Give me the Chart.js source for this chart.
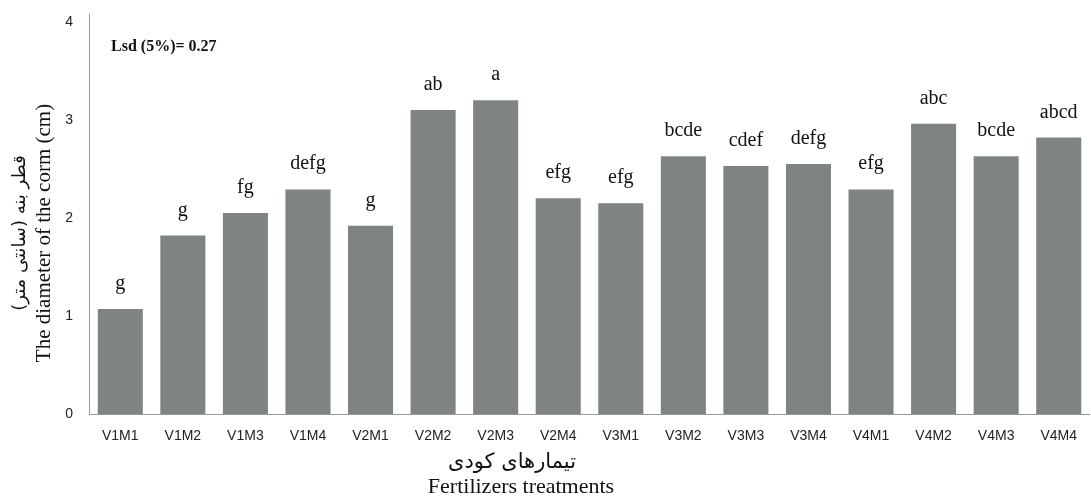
<!DOCTYPE html>
<html>
<head>
<meta charset="utf-8">
<script src="https://cdn.jsdelivr.net/npm/chart.js"></script>
<style>
  body { margin: 0; background: #fff; }
  #wrap { width: 1091px; height: 497px; }
</style>
</head>
<body>
<div id="wrap"><canvas id="cormChart"></canvas></div>
<script>
// treatments and corm diameter (cm)
const treatments = ['V1M1', 'V1M2', 'V1M3', 'V1M4', 'V2M1', 'V2M2', 'V2M3', 'V2M4',
                    'V3M1', 'V3M2', 'V3M3', 'V3M4', 'V4M1', 'V4M2', 'V4M3', 'V4M4'];
const diameter = [1.07, 1.82, 2.05, 2.29, 1.92, 3.10, 3.20, 2.20,
                  2.15, 2.63, 2.53, 2.55, 2.29, 2.96, 2.63, 2.82];
const groups = ['g', 'g', 'fg', 'defg', 'g', 'ab', 'a', 'efg',
                'efg', 'bcde', 'cdef', 'defg', 'efg', 'abc', 'bcde', 'abcd'];
const yTicks = [0, 1, 2, 3, 4];

const serif = '"Liberation Serif", "Times New Roman", serif';

// letters above bars, Lsd note and the two-language axis titles
const annotations = {
    id: 'annotations',
    afterDatasetsDraw(chart) {
        const ctx = chart.ctx;
        const area = chart.chartArea;
        const meta = chart.getDatasetMeta(0);
        ctx.save();
        ctx.fillStyle = '#111';
        ctx.textAlign = 'center';
        ctx.textBaseline = 'alphabetic';
        ctx.font = '20px ' + serif;
        meta.data.forEach((bar, i) => {
            ctx.fillText(groups[i], bar.x, bar.y - 20);
        });

        ctx.textAlign = 'left';
        ctx.textBaseline = 'middle';
        ctx.font = 'bold 16px ' + serif;
        ctx.fillText('Lsd (5%)= 0.27', area.left + 22, 47);

        // x title
        ctx.textAlign = 'center';
        ctx.font = '21px "DejaVu Sans", ' + serif;
        ctx.fillText('تیمارهای کودی', area.left + 423, 463);
        ctx.font = '22px ' + serif;
        ctx.fillText('Fertilizers treatments', area.left + 432, 487);

        // y title, rotated
        ctx.translate(0, 233);
        ctx.rotate(-Math.PI / 2);
        ctx.font = '18px "DejaVu Sans", ' + serif;
        ctx.fillText('قطر بنه (سانتی متر)', 0, 20);
        ctx.font = '21px ' + serif;
        ctx.fillText('The diameter of the corm (cm)', 0, 44);
        ctx.restore();
    }
};

const ctx = document.getElementById('cormChart').getContext('2d');
const cormChart = new Chart(ctx, {
    type: 'bar',
    data: {
        labels: treatments,
        datasets: [{
            data: diameter,
            backgroundColor: '#7e8481',
            borderWidth: 0,
            barPercentage: 0.72,
            categoryPercentage: 1
        }]
    },
    options: {
        responsive: true,
        maintainAspectRatio: false,
        animation: false,
        layout: { padding: { top: 14, right: 0, bottom: 0, left: 0 } },
        plugins: {
            legend: { display: false },
            tooltip: { enabled: false }
        },
        scales: {
            x: {
                grid: { display: false, drawTicks: false },
                border: { color: '#9a9a9a', width: 1 },
                ticks: {
                    color: '#222',
                    padding: 14,
                    maxRotation: 0,
                    autoSkip: false,
                    font: { size: 14, family: '"Liberation Sans", Arial, sans-serif' }
                },
                afterFit(scale) { scale.height = 83; }
            },
            y: {
                min: 0,
                max: 4.08,
                grid: { display: false, drawTicks: false },
                border: { color: '#9a9a9a', width: 1 },
                afterBuildTicks(scale) {
                    scale.ticks = yTicks.map(v => ({ value: v }));
                },
                ticks: {
                    color: '#222',
                    padding: 16,
                    font: { size: 14, family: '"Liberation Sans", Arial, sans-serif' }
                },
                afterFit(scale) {
                    scale.width = 89;
                    // the axis line runs up past the top tick, so no label padding
                    scale.paddingTop = 0;
                    scale.paddingBottom = 0;
                }
            }
        }
    },
    plugins: [annotations]
});
</script>
</body>
</html>
